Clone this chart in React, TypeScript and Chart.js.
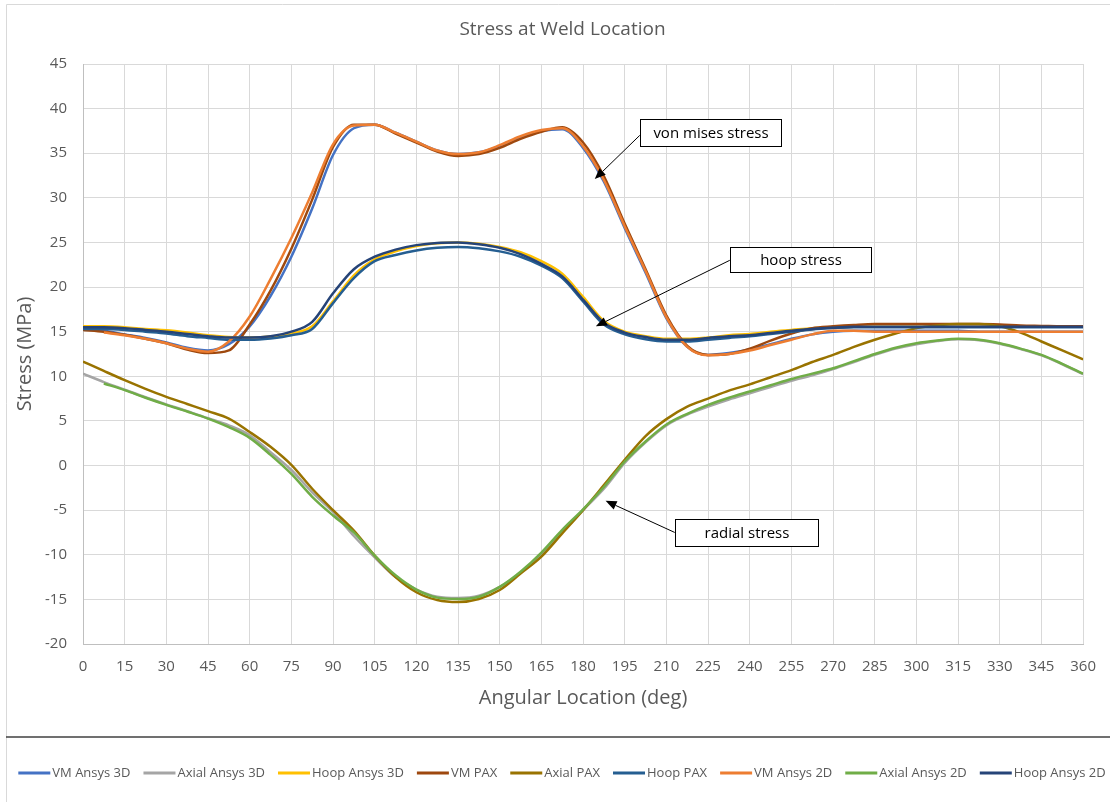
import React, { useEffect, useRef } from 'react';
import { Chart, registerables } from 'chart.js';

Chart.register(...registerables);

// ---- data (angle in degrees, stress in MPa) ----
const angles = [
  0, 7.5, 15, 22.5, 30, 37.5, 45, 52.5, 60, 67.5, 75, 82.5, 90, 97.5, 105, 112.5,
  120, 127.5, 135, 142.5, 150, 157.5, 165, 172.5, 180, 187.5, 195, 202.5, 210, 217.5,
  225, 232.5, 240, 247.5, 255, 262.5, 270, 277.5, 285, 292.5, 300, 307.5, 315, 322.5,
  330, 337.5, 345, 352.5, 360,
];

const xTickStep = 15;
const yTickStep = 5;

const vmAnsys3D = [
  15.3, 15.1, 14.7, 14.3, 13.8, 13.2, 12.9, 13.6, 15.6, 19.0, 23.4, 28.8,
  34.8, 37.8, 38.2, 37.3, 36.3, 35.3, 34.9, 35.1, 35.8, 36.8, 37.5, 37.7,
  35.6, 31.8, 26.6, 21.6, 16.5, 13.3, 12.4, 12.6, 13.0, 13.6, 14.2, 14.7,
  15.0, 15.1, 15.1, 15.1, 15.1, 15.1, 15.1, 15.0, 15.0, 15.0, 15.0, 15.0, 15.0,
];
const axialAnsys3D = [
  10.3, 9.35, 8.5, 7.65, 6.85, 6.1, 5.3, 4.5, 3.4, 1.5, -0.5, -3.0,
  -5.2, -7.9, -10.3, -12.5, -13.9, -14.7, -14.85, -14.6, -13.6, -12.0, -9.9, -7.4,
  -5.0, -2.6, 0.3, 2.6, 4.5, 5.7, 6.6, 7.4, 8.1, 8.8, 9.5, 10.1,
  10.8, 11.6, 12.4, 13.1, 13.6, 13.95, 14.15, 14.05, 13.65, 13.05, 12.35, 11.35, 10.25,
];
const hoopAnsys3D = [
  15.6, 15.6, 15.5, 15.3, 15.15, 14.9, 14.6, 14.4, 14.35, 14.45, 14.8, 15.6,
  18.4, 21.3, 23.1, 24.0, 24.6, 24.9, 25.0, 24.85, 24.5, 23.9, 22.9, 21.5,
  18.9, 16.2, 15.0, 14.5, 14.2, 14.2, 14.35, 14.6, 14.75, 15.0, 15.2, 15.4,
  15.5, 15.55, 15.55, 15.55, 15.55, 15.55, 15.55, 15.55, 15.55, 15.55, 15.55, 15.55, 15.55,
];
const vmPAX = [
  15.2, 15.0, 14.65, 14.2, 13.7, 13.0, 12.6, 12.9, 15.8, 19.6, 24.3, 29.8,
  35.7, 38.2, 38.2, 37.2, 36.2, 35.2, 34.7, 34.9, 35.6, 36.6, 37.4, 37.9,
  36.2, 32.4, 27.1, 22.0, 16.8, 13.4, 12.4, 12.5, 13.1, 14.0, 14.8, 15.4,
  15.6, 15.75, 15.85, 15.85, 15.85, 15.85, 15.85, 15.85, 15.8, 15.7, 15.65, 15.6, 15.6,
];
const axialPAX = [
  11.65, 10.6, 9.57, 8.6, 7.7, 6.9, 6.1, 5.26, 3.76, 2.1, 0.07, -2.6,
  -5.0, -7.3, -10.1, -12.5, -14.2, -15.07, -15.3, -14.96, -13.95, -12.1, -10.2, -7.6,
  -5.0, -2.2, 0.64, 3.3, 5.2, 6.6, 7.5, 8.4, 9.1, 9.9, 10.7, 11.6,
  12.4, 13.3, 14.1, 14.8, 15.4, 15.7, 15.85, 15.85, 15.6, 14.9, 13.9, 12.9, 11.9,
];
const hoopPAX = [
  15.3, 15.3, 15.2, 15.0, 14.8, 14.5, 14.3, 14.1, 14.1, 14.25, 14.6, 15.3,
  18.2, 21.0, 22.9, 23.6, 24.1, 24.4, 24.5, 24.35, 24.0, 23.4, 22.4, 21.0,
  18.4, 15.8, 14.7, 14.15, 13.9, 13.9, 14.1, 14.3, 14.5, 14.75, 15.0, 15.25,
  15.4, 15.5, 15.5, 15.5, 15.5, 15.5, 15.5, 15.5, 15.5, 15.5, 15.5, 15.5, 15.5,
];
const vmAnsys2D = [
  null, 14.9, 14.6, 14.2, 13.7, 13.1, 12.75, 13.9, 16.7, 20.9, 25.5, 30.6,
  36.0, 38.1, 38.2, 37.3, 36.3, 35.3, 34.9, 35.1, 35.9, 36.9, 37.6, 37.8,
  35.8, 32.0, 26.8, 21.8, 16.6, 13.3, 12.35, 12.5, 12.9, 13.5, 14.1, 14.7,
  15.1, 15.1, 15.0, 15.0, 15.0, 15.0, 15.0, 15.0, 15.0, 15.0, 15.0, 15.0, 15.0,
];
const axialAnsys2D = [
  null, 9.2, 8.45, 7.6, 6.8, 6.05, 5.26, 4.3, 3.1, 1.2, -0.94, -3.5,
  -5.6, -7.5, -10.1, -12.3, -13.9, -14.8, -14.96, -14.7, -13.6, -11.9, -9.75, -7.2,
  -4.9, -2.4, 0.45, 2.7, 4.6, 5.8, 6.8, 7.6, 8.3, 9.0, 9.7, 10.3,
  10.9, 11.7, 12.5, 13.2, 13.7, 14.0, 14.2, 14.1, 13.7, 13.1, 12.4, 11.4, 10.3,
];
const hoopAnsys2D = [
  15.5, 15.5, 15.4, 15.2, 15.0, 14.75, 14.5, 14.35, 14.35, 14.5, 15.0, 16.1,
  19.3, 22.0, 23.4, 24.2, 24.7, 24.95, 25.0, 24.8, 24.4, 23.7, 22.6, 21.2,
  18.6, 16.0, 14.9, 14.4, 14.1, 14.1, 14.3, 14.5, 14.6, 14.85, 15.1, 15.3,
  15.45, 15.55, 15.55, 15.55, 15.55, 15.55, 15.55, 15.55, 15.55, 15.55, 15.55, 15.55, 15.55,
];

const seriesNames = [
  'VM Ansys 3D', 'Axial Ansys 3D', 'Hoop Ansys 3D',
  'VM PAX', 'Axial PAX', 'Hoop PAX',
  'VM Ansys 2D', 'Axial Ansys 2D', 'Hoop Ansys 2D',
];
const seriesValues = [
  vmAnsys3D, axialAnsys3D, hoopAnsys3D,
  vmPAX, axialPAX, hoopPAX,
  vmAnsys2D, axialAnsys2D, hoopAnsys2D,
];
const seriesColors = [
  '#4472C4', '#A5A5A5', '#FFC000',
  '#9E480E', '#997300', '#255E91',
  '#ED7D31', '#70AD47', '#264478',
];

// ---- callouts (in data coordinates: deg, MPa) ----
const noteTexts = ['von mises stress', 'hoop stress', 'radial stress'];
const noteBoxLeft = [200.4, 232.8, 213.0];
const noteBoxRight = [251.4, 283.8, 264.4];
const noteBoxTop = [38.8, 24.5, -6.0];
const noteBoxBottom = [35.8, 21.7, -9.0];
const noteFromX = [200.4, 232.8, 213.0];
const noteFromY = [37.0, 23.0, -7.5];
const noteToX = [184.2, 184.6, 188.1];
const noteToY = [32.1, 15.6, -3.95];

const FONT = '"Open Sans", "Liberation Sans", Arial, sans-serif';
const TEXT = '#595959';

Chart.defaults.font.family = FONT;

const framePlugin = {
  id: 'frame',
  beforeDraw(chart: any) {
    const { ctx, width, height } = chart;
    ctx.save();
    ctx.fillStyle = '#ffffff';
    ctx.fillRect(0, 0, width, height);
    ctx.strokeStyle = '#d9d9d9';
    ctx.lineWidth = 1;
    ctx.beginPath();
    ctx.moveTo(6.5, height);
    ctx.lineTo(6.5, 4.5);
    ctx.lineTo(width, 4.5);
    ctx.stroke();
    ctx.strokeStyle = '#404040';
    ctx.lineWidth = 1.6;
    ctx.beginPath();
    ctx.moveTo(6, 737);
    ctx.lineTo(width, 737);
    ctx.stroke();
    ctx.restore();
  },
};

// legend row drawn under the separator line, from the series names / colours
const seriesLegendPlugin = {
  id: 'seriesLegend',
  afterDraw(chart: any) {
    const { ctx } = chart;
    const centerX = 562;
    const rowY = 773;
    const lineLen = 32;
    const textGap = 2;
    const itemGap = 13;
    ctx.save();
    ctx.font = `13px ${FONT}`;
    const widths = seriesNames.map((s) => ctx.measureText(s).width);
    const total =
      widths.reduce((a, b) => a + b, 0) +
      seriesNames.length * (lineLen + textGap) +
      (seriesNames.length - 1) * itemGap;
    let x = centerX - total / 2;
    ctx.textAlign = 'left';
    ctx.textBaseline = 'middle';
    seriesNames.forEach((name, i) => {
      ctx.strokeStyle = seriesColors[i];
      ctx.lineWidth = 3;
      ctx.beginPath();
      ctx.moveTo(x, rowY);
      ctx.lineTo(x + lineLen, rowY);
      ctx.stroke();
      ctx.fillStyle = TEXT;
      ctx.fillText(name, x + lineLen + textGap, rowY + 0.5);
      x += lineLen + textGap + widths[i] + itemGap;
    });
    ctx.restore();
  },
};

const calloutPlugin = {
  id: 'callouts',
  afterDatasetsDraw(chart: any) {
    const { ctx } = chart;
    const xs = chart.scales.x;
    const ys = chart.scales.y;
    ctx.save();
    for (let i = 0; i < noteTexts.length; i++) {
      const fx = xs.getPixelForValue(noteFromX[i]);
      const fy = ys.getPixelForValue(noteFromY[i]);
      const tx = xs.getPixelForValue(noteToX[i]);
      const ty = ys.getPixelForValue(noteToY[i]);
      const ang = Math.atan2(ty - fy, tx - fx);
      const head = 11;
      const half = 4.5;
      const bx = tx - head * Math.cos(ang);
      const by = ty - head * Math.sin(ang);
      ctx.strokeStyle = '#000';
      ctx.fillStyle = '#000';
      ctx.lineWidth = 1;
      ctx.beginPath();
      ctx.moveTo(fx, fy);
      ctx.lineTo(bx, by);
      ctx.stroke();
      ctx.beginPath();
      ctx.moveTo(tx, ty);
      ctx.lineTo(bx + half * Math.sin(ang), by - half * Math.cos(ang));
      ctx.lineTo(bx - half * Math.sin(ang), by + half * Math.cos(ang));
      ctx.closePath();
      ctx.fill();

      const l = Math.round(xs.getPixelForValue(noteBoxLeft[i])) + 0.5;
      const r = Math.round(xs.getPixelForValue(noteBoxRight[i])) + 0.5;
      const t = Math.round(ys.getPixelForValue(noteBoxTop[i])) + 0.5;
      const b = Math.round(ys.getPixelForValue(noteBoxBottom[i])) + 0.5;
      ctx.fillStyle = '#ffffff';
      ctx.fillRect(l, t, r - l, b - t);
      ctx.strokeStyle = '#000';
      ctx.strokeRect(l, t, r - l, b - t);
      ctx.fillStyle = '#000';
      ctx.font = `15px ${FONT}`;
      ctx.textAlign = 'center';
      ctx.textBaseline = 'middle';
      ctx.fillText(noteTexts[i], (l + r) / 2, (t + b) / 2 + 1);
    }
    ctx.restore();
  },
};

export default function App() {
  const canvasRef = useRef<HTMLCanvasElement | null>(null);

  useEffect(() => {
    const canvas = canvasRef.current;
    if (!canvas) return;
    const n = seriesNames.length;
    const datasets = seriesNames.map((name, i) => ({
      label: name,
      data: angles.map((a, k) => ({ x: a, y: seriesValues[i][k] })),
      borderColor: seriesColors[i],
      backgroundColor: seriesColors[i],
      borderWidth: 2.5,
      pointRadius: 0,
      pointHoverRadius: 0,
      cubicInterpolationMode: 'monotone' as const,
      spanGaps: false,
      order: n - 1 - i,
    }));

    const chart = new Chart(canvas, {
      type: 'line',
      data: { datasets },
      options: {
        animation: false,
        responsive: false,
        devicePixelRatio: 1,
        layout: { padding: { left: 40, right: 25, top: 0, bottom: 44.25 } },
        plugins: {
          title: {
            display: true,
            text: 'Stress at Weld Location',
            color: TEXT,
            font: { family: FONT, size: 19, weight: 'normal' },
            padding: { top: 18.6, bottom: 22.6 },
          },
          legend: { display: false },
          tooltip: { enabled: false },
        },
        scales: {
          x: {
            type: 'linear',
            min: 0,
            max: 360,
            ticks: {
              stepSize: xTickStep,
              autoSkip: false,
              maxRotation: 0,
              padding: 14,
              color: TEXT,
              font: { family: FONT, size: 15 },
            },
            grid: { color: '#d9d9d9', drawTicks: false },
            border: { color: '#bfbfbf' },
            title: {
              display: true,
              text: 'Angular Location (deg)',
              color: TEXT,
              font: { family: FONT, size: 20 },
              padding: { top: -4, bottom: 47.75 },
            },
          },
          y: {
            type: 'linear',
            min: -20,
            max: 45,
            ticks: {
              stepSize: yTickStep,
              padding: 16,
              color: TEXT,
              font: { family: FONT, size: 15 },
            },
            grid: { color: '#d9d9d9', drawTicks: false },
            border: { color: '#bfbfbf' },
            title: {
              display: true,
              text: 'Stress (MPa)',
              color: TEXT,
              font: { family: FONT, size: 20 },
              padding: { top: -27, bottom: 0 },
            },
            afterFit: (s: any) => {
              s.width = 43;
            },
          },
        },
      },
      plugins: [framePlugin, calloutPlugin, seriesLegendPlugin],
    } as any);

    return () => chart.destroy();
  }, []);

  return (
    <div style={{ position: 'absolute', left: 0, top: 0, width: 1110, height: 802, background: '#fff' }}>
      <canvas ref={canvasRef} width={1110} height={802} style={{ display: 'block' }} />
    </div>
  );
}
